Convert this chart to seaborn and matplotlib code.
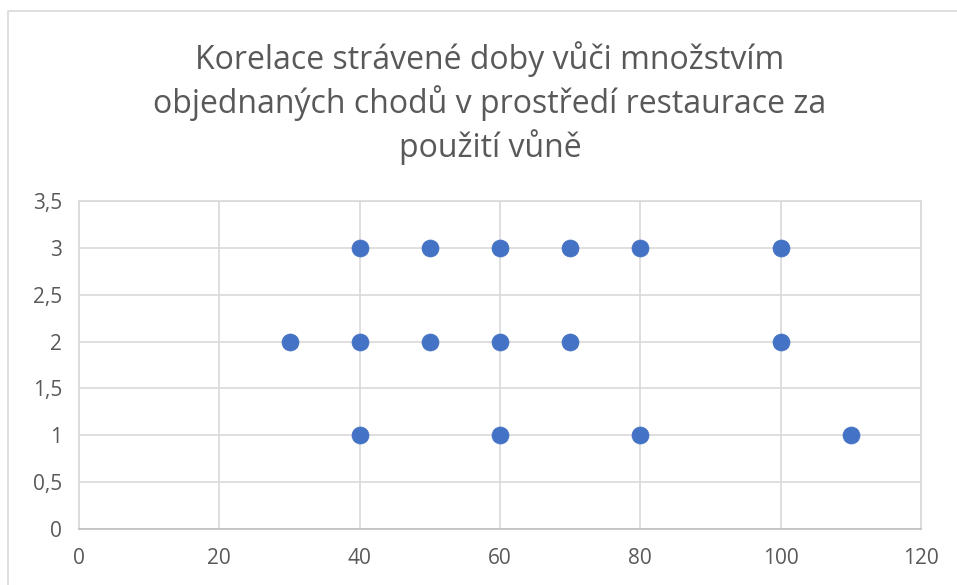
import matplotlib
matplotlib.use("Agg")
import matplotlib.pyplot as plt
import seaborn as sns
import pandas as pd
from matplotlib.patches import Rectangle

# --- Data ---
minutes = [30, 40, 40, 40, 50, 50, 60, 60, 60, 70, 70, 80, 80, 100, 100, 110]
courses = [2, 3, 2, 1, 3, 2, 3, 2, 1, 3, 2, 3, 1, 3, 2, 1]
x_ticks = [0, 20, 40, 60, 80, 100, 120]
y_ticks = [0, 0.5, 1, 1.5, 2, 2.5, 3, 3.5]
title = ("Korelace strávené doby vůči množstvím\n"
         "objednaných chodů v prostředí restaurace za\n"
         "použití vůně")

df = pd.DataFrame({"doba": minutes, "chody": courses})

sns.set_theme(style="white")
plt.rcParams['font.family'] = ['Open Sans', 'DejaVu Sans']

fig = plt.figure(figsize=(9.57, 5.85), dpi=100)
ax = fig.add_axes([79 / 957, 1 - 529 / 585, (921 - 79) / 957, (529 - 201) / 585])

sns.scatterplot(data=df, x="doba", y="chody", ax=ax, color="#4472C4",
                s=150, edgecolor="#4472C4", linewidth=0.5, zorder=3)

ax.set_xlim(0, 120)
ax.set_ylim(0, 3.5)
ax.set_xticks(x_ticks)
ax.set_yticks(y_ticks)
ax.set_xticklabels([str(v) for v in x_ticks])
ax.set_yticklabels([f"{v:g}".replace(".", ",") for v in y_ticks])
ax.tick_params(axis="both", length=0, labelsize=15, colors="#595959")
ax.tick_params(axis="x", pad=14)
ax.tick_params(axis="y", pad=12)
ax.set_xlabel("")
ax.set_ylabel("")

ax.grid(True, color="#D9D9D9", linewidth=1.2)
ax.set_axisbelow(True)
for side in ["top", "right", "left"]:
    ax.spines[side].set_color("#D9D9D9")
    ax.spines[side].set_linewidth(1.2)
ax.spines["bottom"].set_color("#BFBFBF")
ax.spines["bottom"].set_linewidth(1.2)

fig.text(490 / 957, 1 - 103 / 585, title, ha="center", va="center",
         fontsize=23, color="#595959", linespacing=1.3)

# chart area border
fig.patches.append(Rectangle((8 / 957, -0.05), 1.1, 1 - 11 / 585 + 0.05,
                             transform=fig.transFigure, fill=False,
                             edgecolor="#D9D9D9", linewidth=1.2))

fig.savefig("out.png", dpi=100)
